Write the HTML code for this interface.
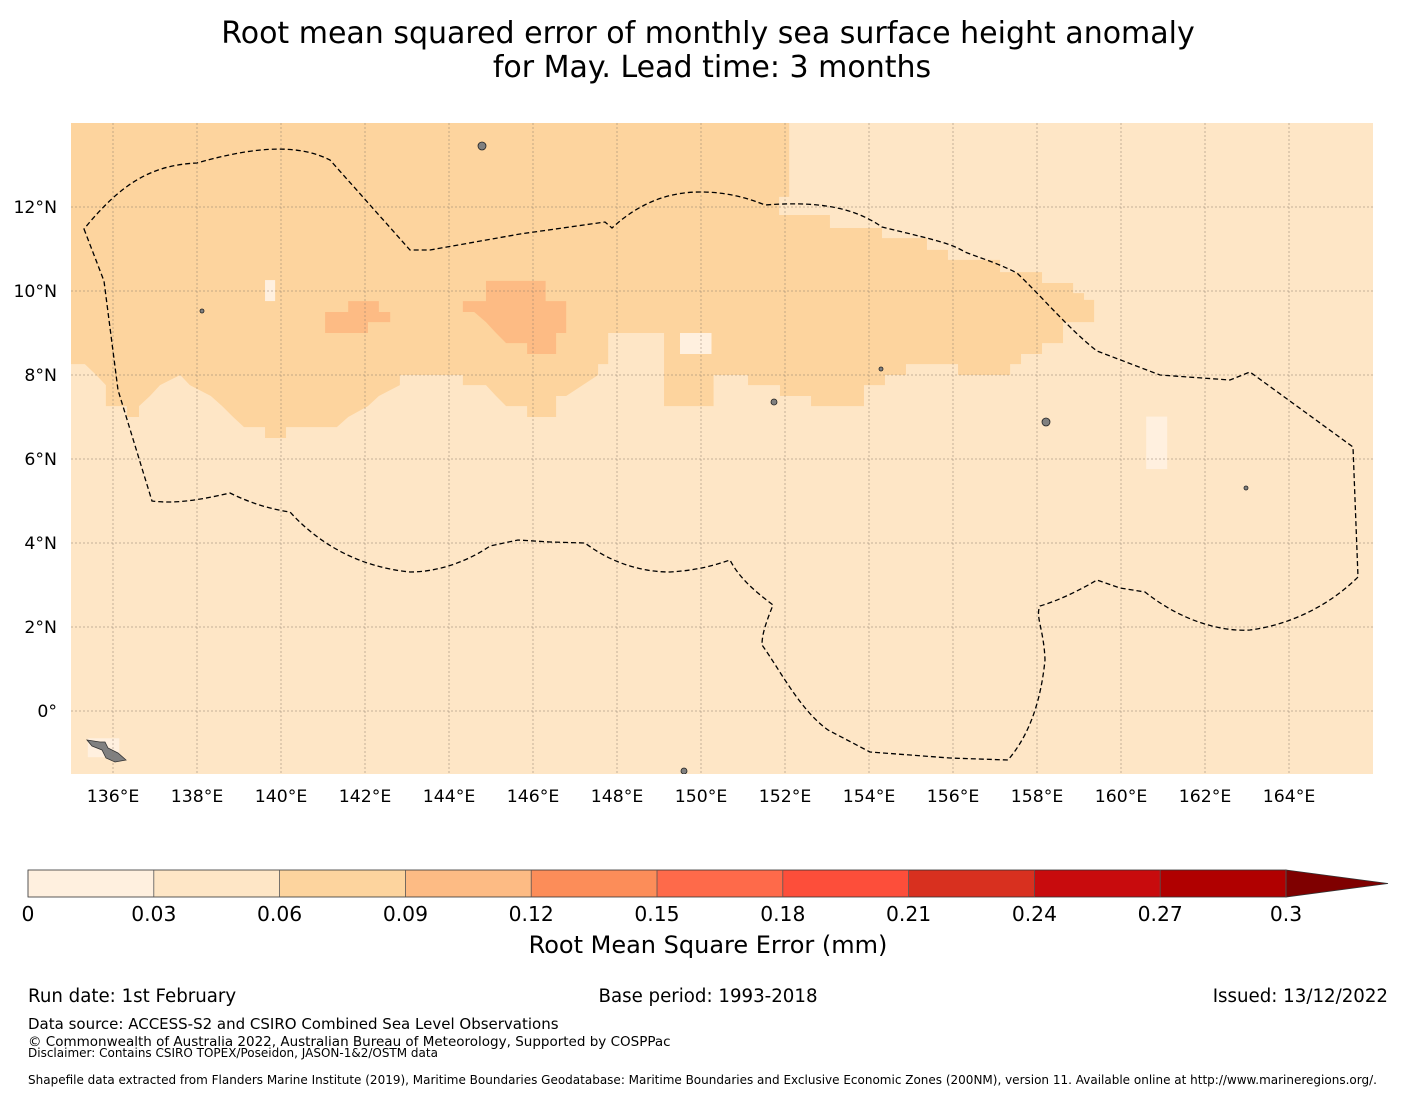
<!DOCTYPE html>
<html><head><meta charset="utf-8">
<style>
body{margin:0;background:#fff;width:1416px;height:1095px;overflow:hidden;font-family:"DejaVu Sans","Liberation Sans",sans-serif;}
svg text{font-family:"DejaVu Sans","Liberation Sans",sans-serif;fill:#000;}
</style></head>
<body>
<svg id="chart" width="1416" height="1095" viewBox="0 0 1416 1095" xmlns="http://www.w3.org/2000/svg">
<text x="708" y="43" font-size="30" text-anchor="middle">Root mean squared error of monthly sea surface height anomaly</text>
<text x="712" y="77" font-size="30" text-anchor="middle">for May. Lead time: 3 months</text>
<defs><clipPath id="mapclip"><rect x="71" y="123" width="1302" height="651"/></clipPath></defs>
<g id="map" clip-path="url(#mapclip)"></g>
<g id="axes"></g>
<g id="cbar"></g>
<text x="708" y="953" font-size="24" text-anchor="middle">Root Mean Square Error (mm)</text>
<text x="28" y="1002" font-size="18.2">Run date: 1st February</text>
<text x="708" y="1002" font-size="18.2" text-anchor="middle">Base period: 1993-2018</text>
<text x="1388" y="1002" font-size="18.2" text-anchor="end">Issued: 13/12/2022</text>
<text x="28" y="1029" font-size="15">Data source: ACCESS-S2 and CSIRO Combined Sea Level Observations</text>
<text x="28" y="1046" font-size="13.5">© Commonwealth of Australia 2022, Australian Bureau of Meteorology, Supported by COSPPac</text>
<text x="28" y="1057" font-size="12">Disclaimer: Contains CSIRO TOPEX/Poseidon, JASON-1&amp;2/OSTM data</text>
<text x="28" y="1084" font-size="12">Shapefile data extracted from Flanders Marine Institute (2019), Maritime Boundaries Geodatabase: Maritime Boundaries and Exclusive Economic Zones (200NM), version 11. Available online at http://www.marineregions.org/.</text>
</svg>
<script>
const lonTicks=[136,138,140,142,144,146,148,150,152,154,156,158,160,162,164];
const latTicks=[0,2,4,6,8,10,12];
const cbarLevels=[0,0.03,0.06,0.09,0.12,0.15,0.18,0.21,0.24,0.27,0.3];
const cbarColors=["#fff0df","#fee6c6","#fdd49e","#fdbb84","#fc8d59","#fe6a4a","#fd4e3a","#d8301f","#c80b0d","#b00000"];
const cbarExtendColor="#7f0000";
const backgroundBin=1;
const regionMid=[[135,14],[152.1,14],[152.1,12.24],[151.86,12.24],[151.86,11.81],[153.07,11.81],[153.07,11.5],[154.31,11.5],[154.31,11.26],[155.38,11.26],[155.38,10.98],[155.88,10.98],[155.88,10.74],[157.12,10.74],[157.12,10.45],[158.12,10.45],[158.12,10.19],[158.86,10.19],[158.86,9.95],[159.12,9.95],[159.12,9.79],[159.36,9.79],[159.36,9.26],[158.62,9.26],[158.62,8.76],[158.12,8.76],[158.12,8.5],[157.62,8.5],[157.62,8.26],[157.36,8.26],[157.36,8],[156.12,8],[156.12,8.26],[154.88,8.26],[154.88,8],[154.38,8],[154.38,7.76],[153.88,7.76],[153.88,7.26],[152.62,7.26],[152.62,7.5],[151.88,7.5],[151.88,7.76],[151.12,7.76],[151.12,8],[150.3,8],[150.3,7.26],[149.12,7.26],[149.12,9],[147.79,9],[147.79,8.26],[147.55,8.26],[147.55,8],[146.79,7.5],[146.55,7.5],[146.55,7],[145.86,7],[145.86,7.26],[145.36,7.26],[145.12,7.5],[144.88,7.76],[144.33,7.76],[144.33,8],[142.83,8],[142.83,7.76],[142.33,7.5],[142.07,7.26],[141.6,7],[141.33,6.76],[140.12,6.76],[140.12,6.5],[139.62,6.5],[139.62,6.76],[139.12,6.76],[138.86,7],[138.6,7.26],[138.33,7.5],[137.83,7.76],[137.6,8],[137.12,7.76],[136.88,7.5],[136.62,7.26],[136.62,7],[136.33,7],[136.33,7.26],[135.83,7.26],[135.83,7.76],[135.6,8],[135.33,8.26],[135,8.26]];
const regionHigh1=[[144.33,9.76],[144.88,9.76],[144.88,10.24],[146.3,10.24],[146.3,9.76],[146.79,9.76],[146.79,9],[146.55,9],[146.55,8.5],[145.86,8.5],[145.86,8.76],[145.36,8.76],[145.12,9],[144.88,9.26],[144.6,9.5],[144.33,9.5]];
const regionHigh2=[[141.33,9.5],[141.6,9.5],[141.6,9.76],[142.33,9.76],[142.33,9.5],[142.6,9.5],[142.6,9.26],[142.07,9.26],[142.07,9],[141.05,9],[141.05,9.5]];
const eezPx="M84,229 L104,281 L118,390 L152,501 C175,504 200,500 230,493 C250,503 270,509 290,512 C320,545 360,567 410,572 C440,572 470,560 490,546 L518,540 L550,542 L585,543 C610,562 640,572 670,572 C700,570 715,565 730,560 C740,580 760,595 773,605 C765,625 762,635 762,645 C780,670 800,710 828,730 L870,752 L950,758 L1008,760 C1025,740 1040,710 1045,660 C1044,630 1035,616 1040,606 C1060,600 1080,590 1097,580 L1120,588 L1145,592 C1180,620 1220,632 1250,630 C1290,625 1330,605 1358,577 L1353,447 L1250,372 L1230,380 L1160,375 L1097,351 C1070,330 1045,300 1017,273 C995,262 980,258 965,252 C950,243 935,240 882,227 C860,212 830,200 765,205 C740,195 720,192 700,192 C670,192 640,202 612,228 L605,222 L520,234 L430,250 L410,250 L370,205 L330,160 C300,145 260,145 197,163 C150,165 120,185 84,229 Z";
const NS="http://www.w3.org/2000/svg";
const X0=71,Y0=123,PPD=42,LON0=135,LAT0=14;
const xs=lon=>X0+(lon-LON0)*PPD;
const ys=lat=>Y0+(LAT0-lat)*PPD;
function mk(tag,attrs,parent){const e=document.createElementNS(NS,tag);for(const k in attrs)e.setAttribute(k,attrs[k]);parent.appendChild(e);return e;}
const map=document.getElementById('map');
let r=mk('rect',{x:71,y:123,width:1302,height:651,fill:cbarColors[backgroundBin]},map);


function poly(pts,fill,name){const p=mk('polygon',{points:pts.map(q=>xs(q[0])+','+ys(q[1])).join(' '),fill:fill},map);

}
poly(regionMid,cbarColors[2],'rmse-region-006-009');
poly(regionHigh1,cbarColors[3],'rmse-region-009-012-east');
poly(regionHigh2,cbarColors[3],'rmse-region-009-012-west');
[[135.4,-1.1,0.75,0.45],[139.62,9.76,0.24,0.5],[160.6,5.76,0.5,1.25],[149.5,8.5,0.75,0.5]].forEach((b,i)=>{const e=mk('rect',{x:xs(b[0]),y:ys(b[1]+b[3]),width:b[2]*PPD,height:b[3]*PPD,fill:cbarColors[0]},map);

});
let isl=mk('path',{d:"M87,740 L100,742 L105,742 L108,748 L118,753 L126,760 L115,762 L106,758 L102,750 L92,746 Z",fill:"#808080",stroke:"#333","stroke-width":0.8},map);


[[482,146,4],[1046,422,4],[202,311,2],[881,369,2],[1246,488,2],[774,402,3],[684,771,3]].forEach(c=>{const e=mk('circle',{cx:c[0],cy:c[1],r:c[2],fill:"#808080",stroke:"#222","stroke-width":0.8},map);

});
lonTicks.forEach(v=>{const l=mk('line',{x1:xs(v),x2:xs(v),y1:123,y2:774,stroke:"#8a7a6a","stroke-width":0.5,"stroke-dasharray":"2,2"},map);

});
latTicks.forEach(v=>{const l=mk('line',{x1:71,x2:1373,y1:ys(v),y2:ys(v),stroke:"#8a7a6a","stroke-width":0.5,"stroke-dasharray":"2,2"},map);

});
let eez=mk('path',{d:eezPx,fill:"none",stroke:"#000","stroke-width":1.3,"stroke-dasharray":"5,3"},map);


const axes=document.getElementById('axes');
lonTicks.forEach(v=>{const t=mk('text',{x:xs(v),y:802,"font-size":17.3,"text-anchor":"middle"},axes);t.textContent=v+'°E';

});
latTicks.forEach(v=>{const t=mk('text',{x:57,y:ys(v)+6,"font-size":17.3,"text-anchor":"end"},axes);t.textContent=v===0?'0°':v+'°N';

});
const cb=document.getElementById('cbar');
const CX0=28,CX1=1286,CY=870,CH=27;
const cx=v=>CX0+(v-cbarLevels[0])/(cbarLevels[cbarLevels.length-1]-cbarLevels[0])*(CX1-CX0);
cbarColors.forEach((c,i)=>{const e=mk('rect',{x:cx(cbarLevels[i]),y:CY,width:cx(cbarLevels[i+1])-cx(cbarLevels[i]),height:CH,fill:c},cb);

});
let tri=mk('polygon',{points:`${CX1},${CY} 1388,${CY+CH/2} ${CX1},${CY+CH}`,fill:cbarExtendColor,stroke:"#333","stroke-width":0.8},cb);


let fr=mk('rect',{x:CX0,y:CY,width:CX1-CX0,height:CH,fill:"none",stroke:"#333","stroke-width":0.8},cb);


cbarLevels.forEach((v,i)=>{const l=mk('line',{x1:cx(v),x2:cx(v),y1:CY,y2:CY+CH,stroke:"#555","stroke-width":0.8},cb);


const t=mk('text',{x:cx(v),y:921,"font-size":20.3,"text-anchor":"middle"},cb);t.textContent=String(v);

});
</script>
</body></html>
